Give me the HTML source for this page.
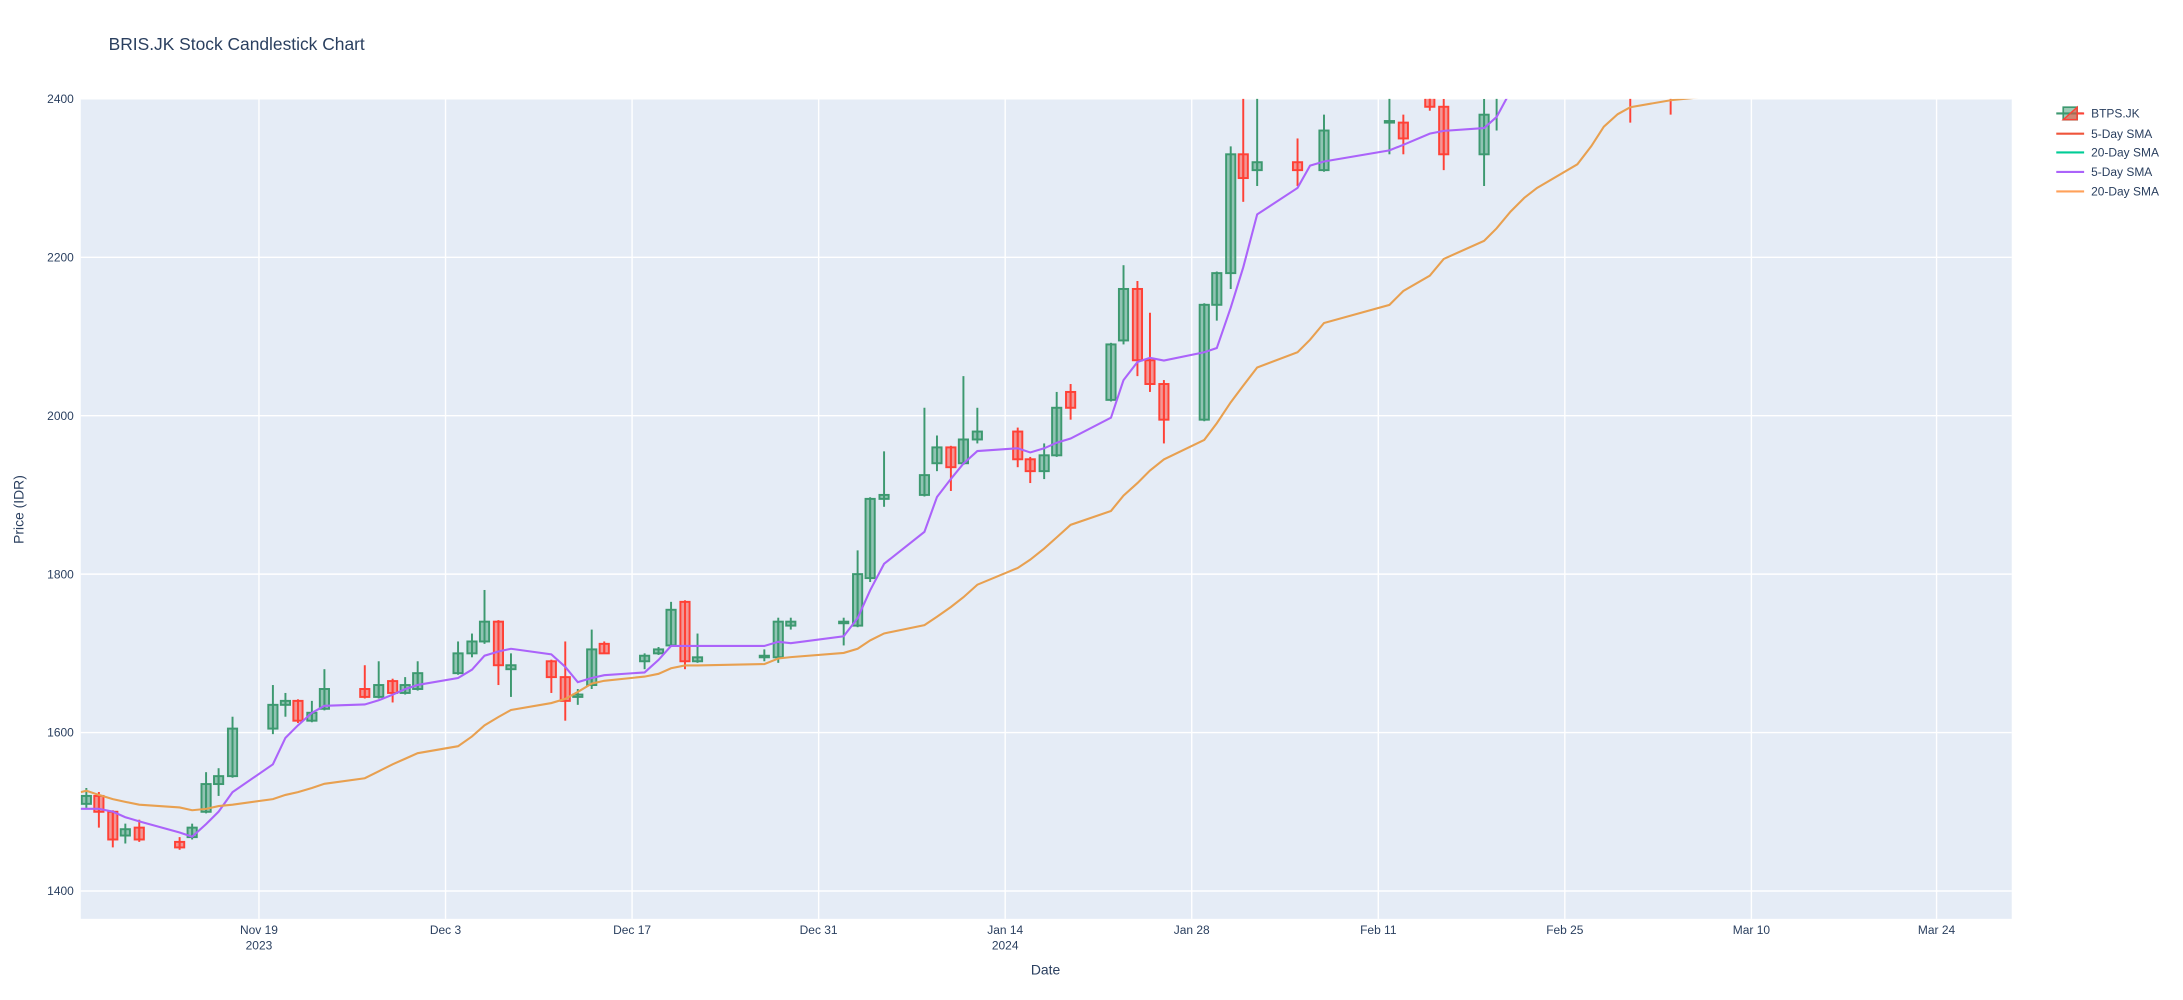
<!DOCTYPE html>
<html><head><meta charset="utf-8"><style>
html,body{margin:0;padding:0;background:#fff;}
svg{display:block;font-family:"Liberation Sans",Arial,sans-serif;}
</style></head><body>
<svg id="s" width="2183" height="1000" viewBox="0 0 1568 718.3" xmlns="http://www.w3.org/2000/svg">
<defs><clipPath id="cp"><rect x="58" y="71" width="1387" height="589"/></clipPath></defs>
<rect x="0" y="0" width="1568" height="718.3" fill="#fff"/>
<rect x="58" y="71" width="1387" height="589" fill="#E5ECF6"/>
<g id="grid" stroke="#fff" stroke-width="1"></g>
<g id="plot" clip-path="url(#cp)"></g>
<g id="labels" fill="#2a3f5f" font-size="8.6"></g>
<text x="78" y="36" font-size="12.5" fill="#2a3f5f">BRIS.JK Stock Candlestick Chart</text>
<text x="751" y="700" font-size="10" fill="#2a3f5f" text-anchor="middle">Date</text>
<text x="17" y="366" font-size="10" fill="#2a3f5f" text-anchor="middle" transform="rotate(-90 17 366)">Price (IDR)</text>
<g id="legend" font-size="8.6" fill="#2a3f5f">
<line x1="1477" y1="81.5" x2="1496" y2="81.5" stroke="#3D9970" stroke-width="1.5"/>
<rect x="1482" y="77" width="10" height="9" fill="rgba(61,153,112,0.5)" stroke="#3D9970" stroke-width="1.2"/>
<polygon points="1492,77 1492,86 1482,86" fill="rgba(255,65,54,0.5)" stroke="#FF4136" stroke-width="1"/>
<line x1="1492" y1="81.5" x2="1497" y2="81.5" stroke="#FF4136" stroke-width="1.5"/>
<text x="1502" y="84.5">BTPS.JK</text>
<line x1="1477" y1="96" x2="1497" y2="96" stroke="#EF553B" stroke-width="1.5"/><text x="1502" y="99">5-Day SMA</text>
<line x1="1477" y1="109.5" x2="1497" y2="109.5" stroke="#00CC96" stroke-width="1.5"/><text x="1502" y="112.5">20-Day SMA</text>
<line x1="1477" y1="123.5" x2="1497" y2="123.5" stroke="#AB63FA" stroke-width="1.5"/><text x="1502" y="126.5">5-Day SMA</text>
<line x1="1477" y1="137.5" x2="1497" y2="137.5" stroke="#FFA15A" stroke-width="1.5"/><text x="1502" y="140.5">20-Day SMA</text>
</g>
</svg>
<script>
const NS="http://www.w3.org/2000/svg";
function el(t,a,p){const e=document.createElementNS(NS,t);for(const k in a)e.setAttribute(k,a[k]);p.appendChild(e);return e;}
const Y=p=>71+(2400-p)*0.569;
const grid=document.getElementById('grid'),plot=document.getElementById('plot'),lab=document.getElementById('labels');
[1400,1600,1800,2000,2200,2400].forEach(v=>{el('line',{x1:58,x2:1445,y1:Y(v),y2:Y(v)},grid);
 const t=el('text',{x:53,y:Y(v)+3,'text-anchor':'end'},lab);t.textContent=v;});
const xt=[[186,'Nov 19','2023'],[320,'Dec 3'],[454,'Dec 17'],[588,'Dec 31'],[722,'Jan 14','2024'],[856,'Jan 28'],[990,'Feb 11'],[1124,'Feb 25'],[1258,'Mar 10'],[1391,'Mar 24']];
xt.forEach(a=>{el('line',{x1:a[0],x2:a[0],y1:71,y2:660},grid);
 let t=el('text',{x:a[0],y:671,'text-anchor':'middle'},lab);t.textContent=a[1];
 if(a[2]){t=el('text',{x:a[0],y:682,'text-anchor':'middle'},lab);t.textContent=a[2];}});
const C=[[62,1510,1530,1505,1520],[71,1520,1525,1480,1500],[81,1500,1502,1455,1465],[90,1470,1485,1460,1478],[100,1480,1490,1462,1465],
[129,1462,1468,1452,1455],[138,1468,1485,1465,1480],[148,1500,1550,1498,1535],[157,1535,1555,1520,1545],[167,1545,1620,1543,1605],
[196,1605,1660,1598,1635],[205,1635,1650,1620,1640],[214,1640,1642,1612,1615],[224,1615,1640,1613,1625],[233,1630,1680,1628,1655],
[262,1655,1685,1643,1645],[272,1645,1690,1643,1660],[282,1665,1668,1638,1650],[291,1650,1670,1648,1660],[300,1655,1690,1653,1675],
[329,1675,1715,1673,1700],[339,1700,1725,1695,1715],[348,1715,1780,1712,1740],[358,1740,1742,1660,1685],[367,1680,1700,1645,1685],
[396,1690,1692,1650,1670],[406,1670,1715,1615,1640],[415,1645,1655,1635,1648],[425,1660,1730,1655,1705],[434,1712,1715,1700,1700],
[463,1690,1700,1680,1697],[473,1700,1708,1698,1705],[482,1710,1765,1708,1755],[492,1765,1767,1680,1690],[501,1690,1725,1688,1695],
[549,1695,1705,1690,1697],[559,1695,1745,1688,1740],[568,1735,1745,1730,1740],[606,1738,1745,1710,1740],[616,1735,1830,1733,1800],
[625,1795,1897,1790,1895],[635,1895,1955,1885,1900],[664,1900,2010,1898,1925],[673,1940,1975,1930,1960],[683,1960,1962,1905,1935],
[692,1940,2050,1938,1970],[702,1970,2010,1965,1980],[731,1980,1985,1935,1945],[740,1945,1948,1915,1930],[750,1930,1965,1920,1950],
[759,1950,2030,1948,2010],[769,2030,2040,1995,2010],[798,2020,2092,2018,2090],[807,2095,2190,2090,2160],[817,2160,2170,2050,2070],
[826,2070,2130,2030,2040],[836,2040,2045,1965,1995],[865,1995,2142,1993,2140],[874,2140,2182,2120,2180],[884,2180,2340,2160,2330],
[893,2330,2450,2270,2300],[903,2310,2450,2290,2320],[932,2320,2350,2290,2310],[951,2310,2380,2308,2360],[998,2370,2420,2330,2372],
[1008,2370,2380,2330,2350],[1027,2410,2450,2385,2390],[1037,2390,2400,2310,2330],[1066,2330,2400,2290,2380],[1075,2410,2450,2360,2430],
[1171,2420,2440,2370,2410],[1200,2420,2440,2380,2410]];
C.forEach(c=>{const [x,o,h,l,cl]=c;const up=cl>=o;const col=up?'#3D9970':'#FF4136';const fill=up?'rgba(61,153,112,0.5)':'rgba(255,65,54,0.5)';
 const hi=Math.max(o,cl),lo=Math.min(o,cl);
 el('line',{x1:x,x2:x,y1:Y(h),y2:Y(lo),stroke:col,'stroke-width':1.4},plot);
 el('line',{x1:x,x2:x,y1:Y(hi),y2:Y(l),stroke:col,'stroke-width':1.4},plot);
 el('rect',{x:x-3.3,y:Y(hi),width:6.6,height:Math.max(Y(lo)-Y(hi),0.8),fill:fill,stroke:col,'stroke-width':1.4},plot);});
const P="58,581 62,581 71,581 81,583 90,587 100,590 129,598 138,601 148,592 157,583 167,569 196,549 205,530 214,521 224,512 233,507 262,506 272,503 282,499 291,495 300,492 329,487 339,481 348,471 358,468 367,466 396,470 406,479 415,490 425,487 434,485 463,483 473,474 482,464 492,464 501,464 549,464 559,461 568,462 606,457 616,444 625,424 635,405 664,382 673,357 683,344 692,333 702,324 731,322 740,325 750,322 759,318 769,315 798,300 807,273 817,260 826,257 836,259 865,253 874,250 884,221 893,192 903,154 932,135 941,119 951,116 998,108 1008,104 1027,96 1037,94 1066,92 1075,84 1082,71 1090,60";
const O="58,569 62,568 71,571 81,574 90,576 100,578 129,580 138,582 148,581 157,579 167,578 196,574 205,571 214,569 224,566 233,563 262,559 272,554 282,549 291,545 300,541 329,536 339,529 348,521 358,515 367,510 396,505 406,502 415,497 425,491 434,489 463,486 473,484 482,480 492,478 501,478 549,477 559,473 568,472 606,469 616,466 625,460 635,455 664,449 673,443 683,436 692,429 702,420 731,408 740,402 750,394 759,386 769,377 798,367 807,356 817,347 826,338 836,330 865,316 874,304 884,289 893,277 903,264 932,253 941,244 951,232 998,219 1008,209 1027,198 1037,186 1066,173 1075,164 1085,152 1095,142 1104,135 1133,118 1143,105 1152,91 1162,82 1171,77 1200,72 1220,70";
el('polyline',{points:P,fill:'none',stroke:'#AB63FA','stroke-width':1.5},plot);
el('polyline',{points:O,fill:'none',stroke:'#E8A050','stroke-width':1.5},plot);
</script>
</body></html>
